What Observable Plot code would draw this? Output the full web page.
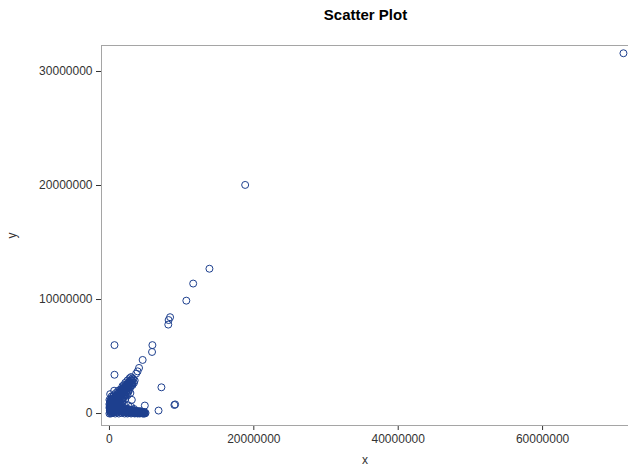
<!DOCTYPE html>
<html>
<head>
<meta charset="utf-8">
<script src="https://cdn.jsdelivr.net/npm/d3@7"></script>
<script src="https://cdn.jsdelivr.net/npm/@observablehq/plot@0.6"></script>
<style>
  body { margin: 0; background: #fff; font-family: "Liberation Sans", Arial, sans-serif; }
  #title { height: 30px; box-sizing: border-box; padding-left: 103px; padding-top: 6px; text-align: center; font-weight: bold; font-size: 15px; color: #000; width: 628px; }
</style>
</head>
<body>
<div id="title">Scatter Plot</div>
<div id="chart"></div>
<script>
// values in millions
const outliersX = [71.2, 18.8, 13.85, 11.6, 10.65, 8.4, 8.2, 8.15, 5.95, 5.9, 0.7, 4.6, 4.1, 3.9, 3.7, 0.7, 7.2, 0.65, 9.1, 9.0, 6.8, 4.9, 5.0];
const outliersY = [31.6, 20.05, 12.7, 11.4, 9.9, 8.45, 8.2, 7.8, 6.0, 5.4, 6.0, 4.7, 4.0, 3.7, 3.5, 3.4, 2.3, 2.0, 0.8, 0.75, 0.26, 0.7, 0.05];
const bandPts = [[0.1,0.4],[0.2,0.8],[0.3,0.5],[0.4,1.0],[0.5,0.7],[0.6,1.2],[0.7,0.9],[0.8,1.4],[0.9,1.0],[1.0,1.3],[1.0,1.6],[1.1,1.1],[1.2,1.5],[1.3,1.8],[1.4,1.3],[1.5,1.7],[1.6,2.0],[1.7,1.5],[1.8,1.9],[1.9,2.2],[2.0,1.7],[2.1,2.1],[2.2,2.4],[2.3,1.9],[2.4,2.3],[2.5,2.6],[2.6,2.1],[2.7,2.5],[2.8,2.8],[2.9,2.3],[3.0,2.7],[3.1,2.9],[3.2,2.5],[3.3,3.0],[3.4,2.7],[2.5,2.9],[2.8,3.1],[3.0,3.2],[2.2,2.7],[1.8,2.4],[1.2,2.0],[0.6,1.6],[0.3,1.3],[0.2,1.0],[0.5,1.5],[0.9,1.8],[1.5,2.1],[2.0,2.5],[2.4,2.0],[2.6,2.4],[3.1,2.6],[3.5,2.9],[1.1,0.9],[1.6,1.3],[2.1,1.6],[2.7,2.0],[0.8,0.6],[1.3,1.0],[1.9,1.4],
  [0.05,0.6],[0.05,0.9],[0.2,0.6],[0.2,1.2],[0.35,0.8],[0.35,1.1],[0.5,1.0],[0.5,1.3],[0.65,1.0],[0.65,1.4],[0.8,1.1],[0.8,1.5],[0.95,1.2],[0.95,1.5],[1.1,1.3],[1.1,1.7],[1.25,1.4],[1.25,1.8],[1.4,1.6],[1.4,1.9],[1.55,1.6],[1.55,1.9],[1.7,1.8],[1.7,2.1],[1.85,1.8],[1.85,2.1],[2.0,2.0],[2.0,2.3],[2.15,2.0],[2.15,2.3],[2.3,2.2],[2.3,2.5],[2.45,2.2],[2.45,2.5],[2.6,2.4],[2.6,2.7],[2.75,2.3],[2.75,2.7],[2.9,2.6],[2.9,2.9],[3.05,2.5],[3.05,2.9],[3.2,2.7],[3.2,3.1],
  [0.1,0.2],[0.25,0.5],[0.4,0.8],[0.6,0.85],[0.75,0.7],[1.0,0.9],[1.2,1.1],[1.4,1.0],[1.6,1.1],[1.8,1.3],[2.0,1.4],[2.2,1.6],[2.4,1.7],[2.6,1.9]];
const stripPts = [[0.0,0.0],[0.1,0.1],[0.2,0.0],[0.3,0.2],[0.4,0.05],[0.5,0.3],[0.6,0.1],[0.7,0.4],[0.8,0.0],[0.9,0.2],[1.0,0.5],[1.1,0.1],[1.2,0.3],[1.3,0.0],[1.4,0.6],[1.5,0.2],[1.6,0.4],[1.7,0.05],[1.8,0.3],[1.9,0.1],[2.0,0.5],[2.1,0.0],[2.2,0.25],[2.3,0.1],[2.4,0.4],[2.5,0.0],[2.6,0.2],[2.7,0.05],[2.8,0.35],[2.9,0.1],[3.0,0.0],[3.1,0.2],[3.2,0.05],[3.3,0.3],[3.4,0.1],[3.5,0.0],[3.6,0.2],[3.7,0.05],[3.8,0.15],[3.9,0.0],[4.0,0.1],[4.1,0.2],[4.2,0.0],[4.3,0.1],[4.4,0.05],[4.5,0.15],[4.6,0.0],[4.7,0.1],[4.8,0.05],[4.9,0.0],[0.1,0.6],[0.2,0.9],[0.3,0.7],[0.1,1.1],[0.4,0.4],[0.5,0.9],[0.6,0.6],[0.2,0.3],[0.9,0.7],[1.2,0.8],[0.7,1.1],[0.0,0.5],[0.0,0.8],[0.0,1.2],[0.3,1.5],[0.1,1.7],[1.5,0.9],[1.8,1.1],[2.2,1.3],[2.5,1.6],[2.9,1.8],[3.0,0.6],[2.6,0.7],[3.4,0.4],[2.0,0.8],[1.7,0.7],[3.1,1.2],
  [0.05,0.3],[0.15,0.5],[0.25,0.15],[0.35,0.35],[0.45,0.6],[0.55,0.15],[0.65,0.45],[0.75,0.2],[0.85,0.5],[0.95,0.35],[1.05,0.25],[1.15,0.55],[1.25,0.15],[1.35,0.4],[1.45,0.25],[1.55,0.5],[1.65,0.2],[1.75,0.45],[1.85,0.15],[1.95,0.35],[2.05,0.25],[2.15,0.45],[2.25,0.15],[2.35,0.3],[2.45,0.2],[2.55,0.4],[2.65,0.1],[2.75,0.25],[2.85,0.15],[2.95,0.3],[3.05,0.1],[3.15,0.3],[3.25,0.15],[3.35,0.2],[3.45,0.05],[3.55,0.1],[3.65,0.25],[3.75,0.1],[3.85,0.05],[3.95,0.2],[4.05,0.05],[4.15,0.1],[4.25,0.05],[4.35,0.2],[4.45,0.1],[4.55,0.05],[4.65,0.15],[4.75,0.0],[4.85,0.1]];
const xTicks = [0, 20000000, 40000000, 60000000];
const yTicks = [0, 10000000, 20000000, 30000000];

const data = [
  ...outliersX.map((x, i) => ({x: x * 1e6, y: outliersY[i] * 1e6})),
  ...bandPts.map(([x, y]) => ({x: x * 1e6, y: y * 1e6})),
  ...stripPts.map(([x, y]) => ({x: x * 1e6, y: y * 1e6}))
];

const color = "#1d3f8e";
const plot = Plot.plot({
  width: 628,
  height: 436,
  marginTop: 15,
  marginBottom: 41,
  marginLeft: 101,
  marginRight: 0,
  style: {fontFamily: "'Liberation Sans', Arial, sans-serif", fontSize: "12px", color: "#333"},
  x: {domain: [-1.1e6, 71.9e6], ticks: xTicks, tickFormat: d3.format("d"), tickSize: 5, label: "x", labelAnchor: "center", labelArrow: "none", labelOffset: 38},
  y: {domain: [-1.05e6, 32.28e6], ticks: yTicks, tickFormat: d3.format("d"), tickSize: 5, label: "y", labelAnchor: "center", labelArrow: "none", labelOffset: 94},
  marks: [
    Plot.frame({stroke: "#a5a5a5"}),
    Plot.dot(data, {x: "x", y: "y", r: 3.5, stroke: color, strokeWidth: 1, fill: "none"})
  ]
});
document.getElementById("chart").appendChild(plot);
</script>
</body>
</html>
